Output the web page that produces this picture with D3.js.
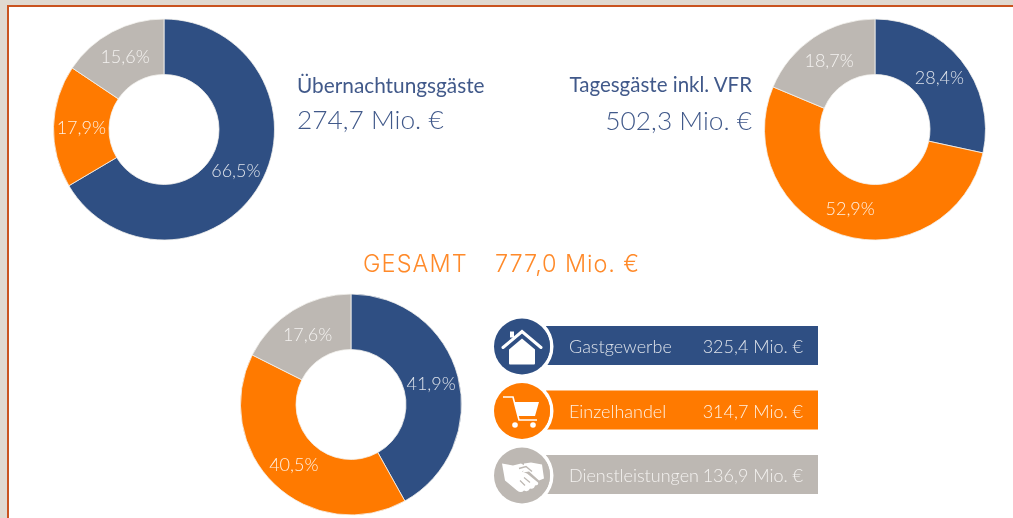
<!DOCTYPE html>
<html><head><meta charset="utf-8">
<script src="https://cdn.jsdelivr.net/npm/d3@7"></script>
<style>
html,body{margin:0;padding:0;background:#fff;overflow:hidden}
text{font-family:Lato,sans-serif;}
svg{filter:blur(0.35px);display:block}
</style></head><body><svg id="c" width="1013" height="518"></svg>
<script>
const categories = ["Gastgewerbe","Einzelhandel","Dienstleistungen"];
const colors = ["#2f4f83","#ff7a00","#bdb8b3"];
const labelColors = ["#dde2ea","#fff0e2","#f4f2f0"];
const overnight = [66.5,17.9,15.6];
const dayVisitors = [28.4,52.9,18.7];
const total = [41.9,40.5,17.6];
const categoryTotals = ["325,4 Mio. €","314,7 Mio. €","136,9 Mio. €"];
const overnightTitle = "Übernachtungsgäste", overnightSum = "274,7 Mio. €";
const dayTitle = "Tagesgäste inkl. VFR", daySum = "502,3 Mio. €";
const totalTitle = "GESAMT", totalSum = "777,0 Mio. €";

const fmt = v => d3.format(".1f")(v).replace(".",",")+"%";
const svg = d3.select("#c");
svg.append("rect").attr("width",1013).attr("height",518).attr("fill","#e0d9d0");
svg.append("rect").attr("x",7).attr("y",5).attr("width",1006).attr("height",513).attr("fill","#c9531f");
svg.append("rect").attr("x",9).attr("y",7).attr("width",1004).attr("height",511).attr("fill","#fff");

const pie = d3.pie().sort(null);
const arc = d3.arc().innerRadius(55).outerRadius(110.5);
function donut(values,cx,cy){
  const g = svg.append("g").attr("transform",`translate(${cx},${cy})`);
  const arcs = pie(values);
  g.selectAll("path").data(arcs).join("path")
    .attr("d",arc).attr("fill",(d,i)=>colors[i]).attr("stroke","#f4f2ef").attr("stroke-width",0.8);
  g.selectAll("text").data(arcs).join("text")
    .attr("transform",d=>`translate(${arc.centroid(d)})`)
    .attr("text-anchor","middle").attr("dy","0.36em")
    .attr("font-size",18).attr("font-weight",300)
    .attr("fill",(d,i)=>labelColors[i]).text(d=>fmt(d.data));
}
donut(overnight,164,129.5);
donut(dayVisitors,875,129.5);
donut(total,351,404.5);

const t=(s,x,y,size,w,fill,anchor,fam,ls)=>svg.append("text").attr("x",x).attr("y",y).attr("font-size",size)
  .attr("font-weight",w).attr("fill",fill).attr("text-anchor",anchor||"start").style("font-family",fam||null)
  .style("letter-spacing",ls||null).text(s);
const navy="#41598a";
t(overnightTitle,297,93,20.8,400,navy);
t(overnightSum,297,129,26.3,300,navy);
t(dayTitle,752,92,20.5,400,navy,"end");
t(daySum,752,130,26.3,300,navy,"end");
const mont="Inter,sans-serif";
t(totalTitle,363,272,23.5,300,"#ff8a2a","start",mont,"1.1px");
t(totalSum,495,272,23.5,300,"#ff8a2a","start",mont,"0.9px");

// legend
const y = d3.scalePoint().domain(categories).range([345.5,474.5]);
const icons = {
 Gastgewerbe: g=>{
   g.append("path").attr("d","M-19,1 L0,-15 L19,1").attr("fill","none").attr("stroke","#fff").attr("stroke-width",3).attr("stroke-linecap","round");
   g.append("path").attr("d","M-13,3 L0,-8 L13,3 L13,17 Q13,18 12,18 L-12,18 Q-13,18 -13,17 Z").attr("fill","#fff");
   g.append("rect").attr("x",-12).attr("y",-15).attr("width",4).attr("height",6).attr("fill","#fff");
 },
 Einzelhandel: g=>{
   g.append("path").attr("d","M-19,-14 L-9,-14 L-3,9 L15,9").attr("fill","none").attr("stroke","#fff").attr("stroke-width",1.6);
   g.append("path").attr("d","M-8,-9 L17,-9 L13,5 L-4,5 Z").attr("fill","#fff");
   g.append("circle").attr("cx",-7).attr("cy",14).attr("r",2.8).attr("fill","#fff");
   g.append("circle").attr("cx",11).attr("cy",14).attr("r",2.8).attr("fill","#fff");
 },
 Dienstleistungen: g=>{
   g.append("path").attr("d","M-20,-12 L-9,-10 L-1,-12 L6,-8 L0,-4 L5,-2 L16,7 Q17,10 13,10 Q12,14 8,13 Q6,17 2,15 Q-1,18 -5,15 L-17,5 Z").attr("fill","#fff");
   g.append("path").attr("d","M2,-12 L9,-13 L20,-11 L22,3 L17,5 L7,-4 L1,-3 Z").attr("fill","#fff");
   g.append("path").attr("d","M-3,-7 L4,-9 L10,-4").attr("fill","none").attr("stroke","#bdb8b3").attr("stroke-width",1.4);
   g.append("path").attr("d","M-2,5 L3,10 M2,2 L8,7").attr("fill","none").attr("stroke","#bdb8b3").attr("stroke-width",1.2);
 }
};
const rows = svg.selectAll("g.row").data(categories).join("g").attr("class","row")
  .attr("transform",d=>`translate(0,${y(d)})`);
rows.append("rect").attr("x",546).attr("y",-19.5).attr("width",272).attr("height",39)
  .attr("fill",(d,i)=>colors[i]);
rows.append("path").attr("d",d3.arc().innerRadius(28).outerRadius(31.5)({startAngle:0,endAngle:Math.PI*2}))
  .attr("transform","translate(522,1)").attr("fill","#fff");
rows.append("circle").attr("cx",522).attr("cy",1).attr("r",28).attr("fill",(d,i)=>colors[i]);
rows.append("text").attr("x",569).attr("y",7.5).attr("font-size",18).attr("font-weight",300)
  .attr("fill",(d,i)=>labelColors[i]).text(d=>d);
rows.append("text").attr("x",803).attr("y",7.5).attr("text-anchor","end").attr("font-size",18).attr("font-weight",300)
  .attr("fill",(d,i)=>labelColors[i]).text((d,i)=>categoryTotals[i]);
rows.each(function(d){ const g=d3.select(this).append("g").attr("transform","translate(522,1)"); icons[d](g); });
</script></body></html>
